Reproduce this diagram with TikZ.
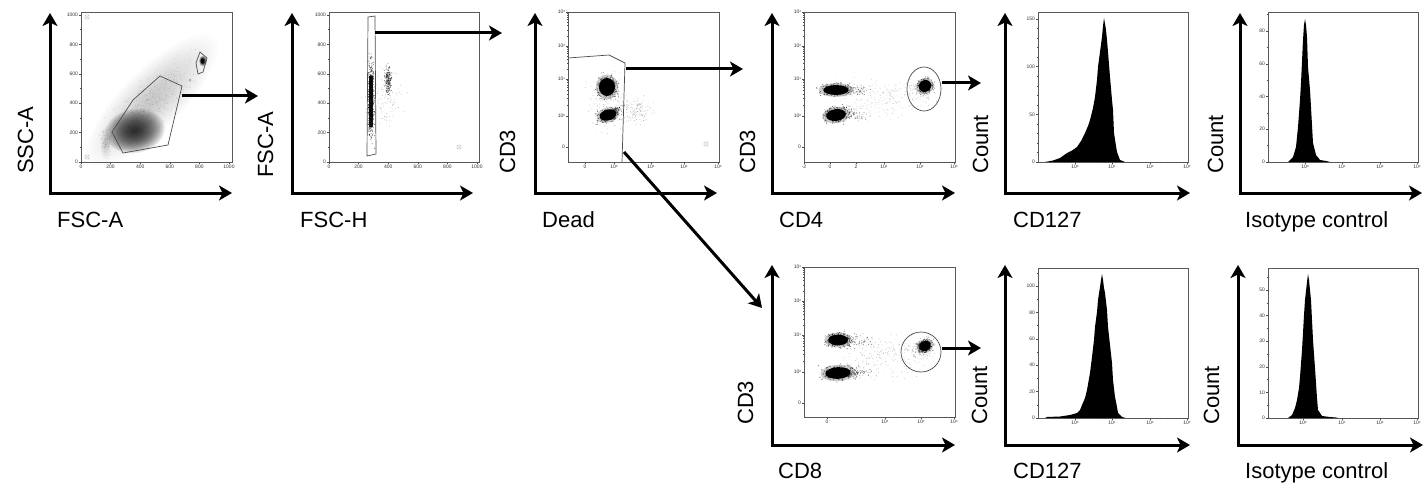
\documentclass[tikz,border=0pt]{standalone}
\usepackage{fontspec}
\setmainfont{Liberation Sans}
\usetikzlibrary{arrows.meta}
\newcommand\tp[1]{10\raisebox{1.5pt}{\fontsize{3}{3}\selectfont #1}}
\newcommand\cloud[8]{% cx cy sx sy rot n size opacity
 \begin{scope}[shift={(#1,#2)},rotate=#5]
 \foreach \i in {1,...,#6}{%
   \pgfmathsetmacro\u{(rand+rand+rand)*#3}%
   \pgfmathsetmacro\v{(rand+rand+rand)*#4}%
   \fill[black,opacity=#8] (\u,\v) circle (#7);
 }
 \end{scope}}
\newcommand\blob[5]{% cx cy rx ry rot : dense population
 \begin{scope}[shift={(#1,#2)},rotate=#5]
  \fill[black,opacity=.2] (0,0) ellipse ({1.25*#3} and {1.25*#4});
  \foreach \i in {1,...,260}{%
   \pgfmathsetmacro\u{(rand+rand+rand)*0.55*#3}%
   \pgfmathsetmacro\v{(rand+rand+rand)*0.55*#4}%
   \fill[black,opacity=.55] (\u,\v) circle (0.55);}
  \fill[black] (0,0) ellipse ({0.9*#3} and {0.9*#4});
 \end{scope}}
\newcommand\gblob[6]{% cx cy rx ry rot opacity : smooth grey density
 \begin{scope}[shift={(#1,#2)},rotate=#5]
  \foreach \s in {1,0.95,...,0.05}{
   \fill[black,opacity=#6] (0,0) ellipse ({\s*#3} and {\s*#4});}
 \end{scope}}
\newcommand\yt[3]{\draw[tk] (#1,#2) -- ++(-2,0) node[tl,anchor=east]{#3};}
\newcommand\xt[3]{\draw[tk] (#1,#2) -- ++(0,2) node[tl,anchor=north]{#3};}
\newcommand\gl[2]{\draw[black!45,line width=0.4pt,rounded corners=0.6pt] ({#1-2},{#2-2}) rectangle ({#1+2},{#2+2}); \fill[black!50] (#1,#2) circle (0.6);}
\tikzset{
 arr/.style={line width=3pt, -{Stealth[length=13pt,width=15pt,inset=3.5pt]}},
 axes/.style={line width=3pt, line join=miter, {Stealth[length=13pt,width=15pt,inset=3.5pt]}-{Stealth[length=13pt,width=15pt,inset=3.5pt]}},
 pbox/.style={draw=black!65, line width=0.6pt},
 gate/.style={draw=black!70, line width=0.7pt},
 tk/.style={draw=black!70, line width=0.4pt},
 tl/.style={font=\fontsize{5}{5}\selectfont, inner sep=0.8pt, text=black!80},
 lab/.style={font=\fontsize{22}{22}\selectfont, inner sep=0pt, anchor=base west},
 rlab/.style={lab, rotate=90},
}
\begin{document}
\begin{tikzpicture}[x=1pt,y=-1pt]
\useasboundingbox (0,0) rectangle (1425,487);
\pgfmathsetseed{7}

% ================= Panel 1: SSC-A vs FSC-A
\gblob{152}{100}{88}{30}{45}{.012}
\cloud{152}{100}{28}{10}{45}{500}{0.45}{0.15}
\gblob{106}{143}{6}{18}{0}{.007}
\cloud{106}{143}{2.5}{6}{0}{80}{0.45}{0.15}
\gblob{135}{131}{30}{22}{10}{.08}
\gblob{203}{61}{4}{5.5}{0}{.1}
\fill[black,opacity=.85] (202.5,61) ellipse (2 and 2.8);
\fill[black,opacity=.25] (190,80) circle (1.4);
\draw[pbox] (81,12) rectangle (232,162);
\foreach \v in {0,200,...,1000}{\yt{81}{162-0.147*\v}{\v}\xt{81+0.148*\v}{162}{\v}}
\foreach \v in {100,300,...,900}{\draw[tk] (81,{162-0.147*\v}) -- ++(-1,0); \draw[tk] ({81+0.148*\v},162) -- ++(0,1);}
\draw[gate] (160,76) -- (182,86) -- (168,145) -- (123,153) -- (112,132) -- (133,100) -- cycle;
\draw[gate] (200,52) -- (207,58) -- (203,72) -- (198,74) -- (196,63) -- cycle;
\gl{87}{17}\gl{87}{157}
\draw[axes] (50,13) -- (50,193) -- (232,193);
\node[rlab] (p1y) at (33,174) {SSC-A};
\node[lab] (p1x) at (57,227) {FSC-A};

% ================= Panel 2: FSC-A vs FSC-H
\cloud{384}{98}{9}{14}{0}{110}{0.45}{0.25}
\cloud{371}{99}{1.6}{18}{0}{550}{0.5}{0.6}
\fill[black,opacity=.9] (369,76) rectangle (373,127);
\cloud{388}{81}{1.6}{7}{0}{200}{0.5}{0.5}
\draw[pbox] (329,12) rectangle (479,162);
\foreach \v in {0,200,...,1000}{\yt{329}{162-0.147*\v}{\v}\xt{329+0.148*\v}{162}{\v}}
\foreach \v in {100,300,...,900}{\draw[tk] (329,{162-0.147*\v}) -- ++(-1,0); \draw[tk] ({329+0.148*\v},162) -- ++(0,1);}
\draw[gate] (368,17) -- (375,16) -- (376,154) -- (367,156) -- cycle;
\gl{459}{147}
\draw[axes] (292,13) -- (292,193) -- (473,193);
\node[rlab] (p2y) at (273,178) {FSC-A};
\node[lab] (p2x) at (300,227) {FSC-H};

% ================= Panel 3: CD3 vs Dead
\cloud{636}{110}{7}{6}{30}{140}{0.45}{0.25}
\cloud{607}{100}{8}{14}{0}{150}{0.45}{0.25}
\blob{607}{87}{9}{10}{0}
\blob{608}{115}{9.5}{6}{15}
\cloud{616}{110}{5}{1.5}{25}{50}{0.5}{0.6}
\draw[pbox] (568,12) rectangle (719,162);
\yt{568}{12}{\tp{3}}\yt{568}{46}{\tp{2}}\yt{568}{79}{\tp{1}}\yt{568}{116}{\tp{0}}\yt{568}{147}{0}
\xt{585}{162}{0}\xt{614}{162}{\tp{0}}\xt{651}{162}{\tp{1}}\xt{684}{162}{\tp{2}}\xt{718}{162}{\tp{3}}
\foreach \a/\b in {614/651,651/684,684/718}{\foreach \k in {2,...,9}{\draw[tk] ({\a+(\b-\a)*log10(\k)},162) -- ++(0,1);}}
\foreach \a/\b in {12/46,46/79,79/116}{\foreach \k in {2,...,9}{\draw[tk] (568,{\b-(\b-\a)*log10(\k)}) -- ++(-1,0);}}
\draw[gate] (568,58) -- (609,55) -- (625,63) -- (622,162);
\gl{706}{144}
\draw[axes] (535,13) -- (535,193) -- (717,193);
\node[rlab] (p3y) at (515,174) {CD3};
\node[lab] (p3x) at (542,227) {Dead};

% ================= Panel 4: CD3 vs CD4
\cloud{885}{98}{20}{9}{0}{200}{0.45}{0.22}
\cloud{852}{90}{8}{2.5}{0}{90}{0.5}{0.45}
\cloud{852}{114}{8}{3}{-10}{90}{0.5}{0.45}
\blob{836}{90}{14}{5.5}{0}
\blob{836}{115}{11}{6.5}{8}
\blob{925}{86}{7}{6.5}{30}
\cloud{922}{90}{6}{5}{0}{90}{0.45}{0.3}
\draw[pbox] (804,12) rectangle (955,162);
\yt{804}{12}{\tp{3}}\yt{804}{46}{\tp{2}}\yt{804}{79}{\tp{1}}\yt{804}{116}{\tp{0}}\yt{804}{147}{0}
\xt{804}{162}{-2}\xt{830}{162}{0}\xt{856}{162}{2}\xt{884}{162}{\tp{1}}\xt{920}{162}{\tp{2}}\xt{954}{162}{\tp{3}}
\foreach \a/\b in {884/920,920/954}{\foreach \k in {2,...,9}{\draw[tk] ({\a+(\b-\a)*log10(\k)},162) -- ++(0,1);}}
\foreach \a/\b in {12/46,46/79,79/116}{\foreach \k in {2,...,9}{\draw[tk] (804,{\b-(\b-\a)*log10(\k)}) -- ++(-1,0);}}
\draw[gate] (924,89) ellipse (17 and 22);
\draw[axes] (772,13) -- (772,193) -- (955,193);
\node[rlab] (p4y) at (755,174) {CD3};
\node[lab] (p4x) at (779,227) {CD4};

% ================= Panel 5: Count vs CD127 (CD4)
\fill[black] (1045,162) -- (1053,160.5) -- (1060,158) -- (1067,153) -- (1072,150.5) -- (1077,147) -- (1081,141) -- (1085,133) -- (1088,126) -- (1090,120) -- (1093,108) -- (1095,97) -- (1097,80) -- (1098,67) -- (1100,52) -- (1102,37) -- (1103,26) -- (1104,18) -- (1105,24) -- (1106,30) -- (1107,40) -- (1108,52) -- (1110,77) -- (1112,100) -- (1113,110) -- (1114,133) -- (1116,146) -- (1117,152) -- (1120,160) -- (1125,162) -- cycle;
\draw[pbox] (1038,12) rectangle (1188,162);
\foreach \v in {0,50,100,150}{\yt{1038}{162-0.953*\v}{\v}}
\foreach \v in {10,20,...,140}{\draw[tk] (1038,{162-0.953*\v}) -- ++(-1,0);}
\xt{1075}{162}{\tp{0}}\xt{1112}{162}{\tp{1}}\xt{1150}{162}{\tp{2}}\xt{1187}{162}{\tp{3}}
\foreach \a/\b in {1038/1075,1075/1112,1112/1150,1150/1187}{\foreach \k in {2,...,9}{\draw[tk] ({\a+(\b-\a)*log10(\k)},162) -- ++(0,1);}}
\draw[axes] (1005,13) -- (1005,193) -- (1190,193);
\node[rlab] (p5y) at (988,174) {Count};
\node[lab] (p5x) at (1013,227) {CD127};

% ================= Panel 6: Count vs Isotype (CD4)
\fill[black] (1288,162) -- (1293,157) -- (1296,147) -- (1298,127) -- (1300,100) -- (1301,83) -- (1303,40) -- (1304,25) -- (1305,19) -- (1306,25) -- (1307,37) -- (1308,67) -- (1310,90) -- (1311,107) -- (1313,143) -- (1316,155) -- (1320,160) -- (1326,161) -- (1330,162) -- cycle;
\draw[pbox] (1268,12) rectangle (1418,162);
\foreach \v in {0,20,40,60,80}{\yt{1268}{162-1.6375*\v}{\v}}
\foreach \v in {10,30,50,70,90}{\draw[tk] (1268,{162-1.6375*\v}) -- ++(-1,0);}
\xt{1305}{162}{\tp{0}}\xt{1342}{162}{\tp{1}}\xt{1380}{162}{\tp{2}}\xt{1417}{162}{\tp{3}}
\foreach \a/\b in {1268/1305,1305/1342,1342/1380,1380/1417}{\foreach \k in {2,...,9}{\draw[tk] ({\a+(\b-\a)*log10(\k)},162) -- ++(0,1);}}
\draw[axes] (1240,13) -- (1240,193) -- (1422,193);
\node[rlab] (p6y) at (1223,174) {Count};
\node[lab] (p6x) at (1245,227) {Isotype control};

% ================= Panel 7: CD3 vs CD8
\cloud{882}{355}{22}{10}{0}{220}{0.45}{0.22}
\cloud{853}{340}{8}{3}{0}{90}{0.5}{0.45}
\cloud{855}{372}{9}{3}{0}{90}{0.5}{0.45}
\blob{838}{340}{11}{6}{0}
\blob{838}{373}{14}{6.5}{3}
\blob{925}{346}{7}{5.5}{25}
\cloud{920}{350}{6}{5}{0}{90}{0.45}{0.3}
\draw[pbox] (804,267) rectangle (955,417);
\yt{804}{267}{\tp{3}}\yt{804}{301}{\tp{2}}\yt{804}{335}{\tp{1}}\yt{804}{372}{\tp{0}}\yt{804}{403}{0}
\xt{827}{417}{0}\xt{885}{417}{\tp{1}}\xt{921}{417}{\tp{2}}\xt{954}{417}{\tp{3}}
\foreach \a/\b in {849/885,885/921,921/954}{\foreach \k in {2,...,9}{\draw[tk] ({\a+(\b-\a)*log10(\k)},417) -- ++(0,1);}}
\foreach \a/\b in {267/301,301/335,335/372}{\foreach \k in {2,...,9}{\draw[tk] (804,{\b-(\b-\a)*log10(\k)}) -- ++(-1,0);}}
\draw[gate] (921,352) circle (20);
\draw[axes] (772,265) -- (772,445) -- (955,445);
\node[rlab] (p7y) at (753,425) {CD3};
\node[lab] (p7x) at (778,478) {CD8};

% ================= Panel 8: Count vs CD127 (CD8)
\fill[black] (1045,418) -- (1047,417) -- (1060,416.5) -- (1070,415) -- (1077,413) -- (1080,410) -- (1082,405) -- (1085,398) -- (1087,390) -- (1090,373) -- (1092,357) -- (1094,340) -- (1095,327) -- (1097,312) -- (1098,300) -- (1100,287) -- (1101,280) -- (1102,274) -- (1103,280) -- (1104,288) -- (1105,293) -- (1107,310) -- (1108,327) -- (1110,345) -- (1112,363) -- (1113,380) -- (1115,397) -- (1117,407) -- (1118,413) -- (1122,417) -- (1126,418) -- cycle;
\draw[pbox] (1038,268) rectangle (1188,418);
\foreach \v in {0,20,...,100}{\yt{1038}{418-1.32*\v}{\v}}
\foreach \v in {10,30,...,110}{\draw[tk] (1038,{418-1.32*\v}) -- ++(-1,0);}
\xt{1075}{418}{\tp{0}}\xt{1112}{418}{\tp{1}}\xt{1150}{418}{\tp{2}}\xt{1187}{418}{\tp{3}}
\foreach \a/\b in {1038/1075,1075/1112,1112/1150,1150/1187}{\foreach \k in {2,...,9}{\draw[tk] ({\a+(\b-\a)*log10(\k)},418) -- ++(0,1);}}
\draw[axes] (1005,265) -- (1005,445) -- (1190,445);
\node[rlab] (p8y) at (987,425) {Count};
\node[lab] (p8x) at (1013,478) {CD127};

% ================= Panel 9: Count vs Isotype (CD8)
\fill[black] (1288,418) -- (1292,415) -- (1295,408) -- (1297,400) -- (1299,388) -- (1300,377) -- (1302,350) -- (1303,333) -- (1304,315) -- (1305,300) -- (1307,282) -- (1308,274) -- (1309,280) -- (1311,300) -- (1312,320) -- (1313,340) -- (1315,368) -- (1316,383) -- (1317,398) -- (1318,410) -- (1322,416) -- (1330,417) -- (1336,417.5) -- (1338,418) -- cycle;
\draw[pbox] (1268,268) rectangle (1418,418);
\foreach \v in {0,10,...,50}{\yt{1268}{418-2.56*\v}{\v}}
\foreach \v in {5,15,...,55}{\draw[tk] (1268,{418-2.56*\v}) -- ++(-1,0);}
\xt{1303}{418}{\tp{0}}\xt{1342}{418}{\tp{1}}\xt{1380}{418}{\tp{2}}\xt{1417}{418}{\tp{3}}
\foreach \a/\b in {1268/1303,1303/1342,1342/1380,1380/1417}{\foreach \k in {2,...,9}{\draw[tk] ({\a+(\b-\a)*log10(\k)},418) -- ++(0,1);}}
\draw[axes] (1238,265) -- (1238,445) -- (1423,445);
\node[rlab] (p9y) at (1219,425) {Count};
\node[lab] (p9x) at (1245,478) {Isotype control};

% ================= Connectors
\coordinate (g1) at (182,96);  \coordinate (t1) at (258,96);
\coordinate (g2) at (375,33);  \coordinate (t2) at (502,33);
\coordinate (g3) at (626,69);  \coordinate (t3) at (743,69);
\coordinate (g4) at (624,152); \coordinate (t4) at (762,308);
\coordinate (g5) at (942,83);  \coordinate (t5) at (981,83);
\coordinate (g6) at (942,348); \coordinate (t6) at (981,348);
\draw[arr] (g1) -- (t1);
\draw[arr] (g2) -- (t2);
\draw[arr] (g3) -- (t3);
\draw[arr] (g4) -- (t4);
\draw[arr] (g5) -- (t5);
\draw[arr] (g6) -- (t6);
\end{tikzpicture}
\end{document}
